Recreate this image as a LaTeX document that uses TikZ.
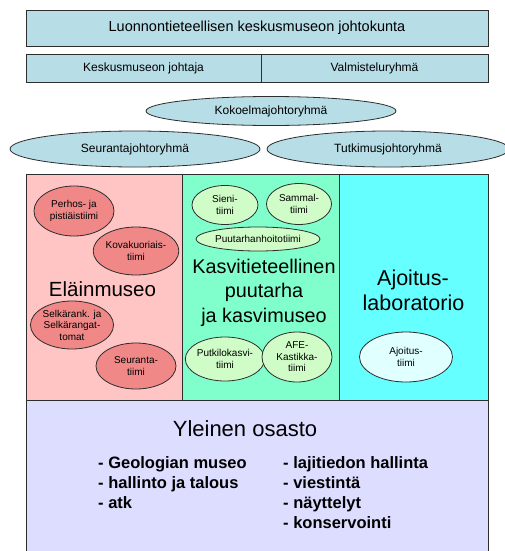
\documentclass[tikz,border=0pt]{standalone}
\usepackage{fontspec}
\setmainfont{Liberation Sans}
\usetikzlibrary{shapes.geometric}
\definecolor{topblue}{RGB}{183,221,230}
\definecolor{pinkbg}{RGB}{255,196,196}
\definecolor{pinkel}{RGB}{240,136,136}
\definecolor{greenbg}{RGB}{128,255,204}
\definecolor{greenel}{RGB}{208,252,200}
\definecolor{cyanbg}{RGB}{102,255,255}
\definecolor{cyanel}{RGB}{224,255,255}
\definecolor{lavbg}{RGB}{221,221,255}
\definecolor{edge}{RGB}{45,45,45}
\begin{document}
\begin{tikzpicture}[x=1pt,y=-1pt,
  box/.style={draw=edge, line width=0.8pt, inner sep=0pt, fill=topblue},
  panel/.style={draw=edge, line width=0.8pt, inner sep=0pt},
  oval/.style={ellipse, draw=edge, line width=0.8pt, inner sep=0pt, align=center},
  bigoval/.style={oval, fill=topblue, font=\fontsize{12}{14}\selectfont},
  smalloval/.style={oval, font=\fontsize{10}{11.5}\selectfont},
  pinkoval/.style={smalloval, fill=pinkel},
  greenoval/.style={smalloval, fill=greenel},
  cyanoval/.style={smalloval, fill=cyanel},
  bigtext/.style={inner sep=0pt, anchor=base, font=\fontsize{20.5}{24}\selectfont},
  listtext/.style={inner sep=0pt, anchor=base west, font=\fontsize{16.5}{20}\selectfont\bfseries}
]
\clip (0,0) rectangle (505,551);
\fill[white] (0,0) rectangle (505,551);

% top boxes
\node[box, minimum width=462pt, minimum height=36pt, font=\fontsize{14.5}{16}\selectfont]
  (board) at (257,28) {Luonnontieteellisen keskusmuseon johtokunta};
\node[box, minimum width=235pt, minimum height=28pt, font=\fontsize{12}{14}\selectfont]
  (director) at (143.5,68) {Keskusmuseon johtaja};
\node[box, minimum width=227pt, minimum height=28pt, font=\fontsize{12}{14}\selectfont]
  (prep) at (374.5,68) {Valmisteluryhmä};

% management ovals
\node[bigoval, minimum width=250pt, minimum height=29pt] (kok) at (271,111) {Kokoelmajohtoryhmä};
\node[bigoval, minimum width=250pt, minimum height=36pt] (seu) at (135,149) {Seurantajohtoryhmä};
\node[bigoval, minimum width=242pt, minimum height=36pt] (tut) at (388,149) {Tutkimusjohtoryhmä};

% panels
\node[panel, fill=pinkbg, minimum width=156pt, minimum height=226pt] (zoo) at (104,287) {};
\node[panel, fill=greenbg, minimum width=157pt, minimum height=226pt] (bot) at (260.5,287) {};
\node[panel, fill=cyanbg, minimum width=149pt, minimum height=226pt] (dat) at (413.5,287) {};
\node[panel, fill=lavbg, minimum width=462pt, minimum height=156pt] (gen) at (257,478) {};

% Eläinmuseo
\node[pinkoval, minimum width=80pt, minimum height=50pt] (perhos) at (74,211) {Perhos- ja\\pistiäistiimi};
\node[pinkoval, minimum width=80pt, minimum height=48pt] (kova) at (136,251) {Kovakuoriais-\\tiimi};
\node[bigtext] (zoot) at (102.5,296) {Eläinmuseo};
\node[pinkoval, minimum width=78pt, minimum height=48pt] (selk) at (72,325) {Selkärank. ja\\Selkärangat-\\tomat};
\node[pinkoval, minimum width=80pt, minimum height=46pt] (seut) at (136,366) {Seuranta-\\tiimi};

% Kasvitieteellinen puutarha
\node[greenoval, minimum width=66pt, minimum height=39pt] (sieni) at (225,205) {Sieni-\\tiimi};
\node[greenoval, minimum width=65pt, minimum height=41pt] (sammal) at (299,204) {Sammal-\\tiimi};
\node[greenoval, minimum width=124pt, minimum height=24pt] (puut) at (258,239) {Puutarhanhoitotiimi};
\node[bigtext, font=\fontsize{19.8}{24}\selectfont] (bot1) at (264,273) {Kasvitieteellinen};
\node[bigtext, font=\fontsize{19.8}{24}\selectfont] (bot2) at (264,297.5) {puutarha};
\node[bigtext, font=\fontsize{19.8}{24}\selectfont] (bot3) at (264,322) {ja kasvimuseo};
\node[greenoval, minimum width=70pt, minimum height=44pt] (putki) at (225,359) {Putkilokasvi-\\tiimi};
\node[greenoval, minimum width=70pt, minimum height=50pt] (afe) at (297,357) {AFE-\\Kastikka-\\tiimi};

% Ajoituslaboratorio
\node[bigtext, font=\fontsize{21.5}{25}\selectfont] (dat1) at (413,285) {Ajoitus-};
\node[bigtext, font=\fontsize{21.5}{25}\selectfont] (dat2) at (413.5,310) {laboratorio};
\node[cyanoval, minimum width=93pt, minimum height=50pt] (ajo) at (406,357) {Ajoitus-\\tiimi};

% Yleinen osasto
\node[bigtext, font=\fontsize{22}{26}\selectfont] (gent) at (245,436) {Yleinen osasto};
\node[listtext] (g1) at (98,468) {- Geologian museo};
\node[listtext] (g2) at (98,488) {- hallinto ja talous};
\node[listtext] (g3) at (98,508) {- atk};
\node[listtext] (g4) at (283,468) {- lajitiedon hallinta};
\node[listtext] (g5) at (283,488) {- viestintä};
\node[listtext] (g6) at (283,508) {- näyttelyt};
\node[listtext] (g7) at (283,528) {- konservointi};
\end{tikzpicture}
\end{document}
